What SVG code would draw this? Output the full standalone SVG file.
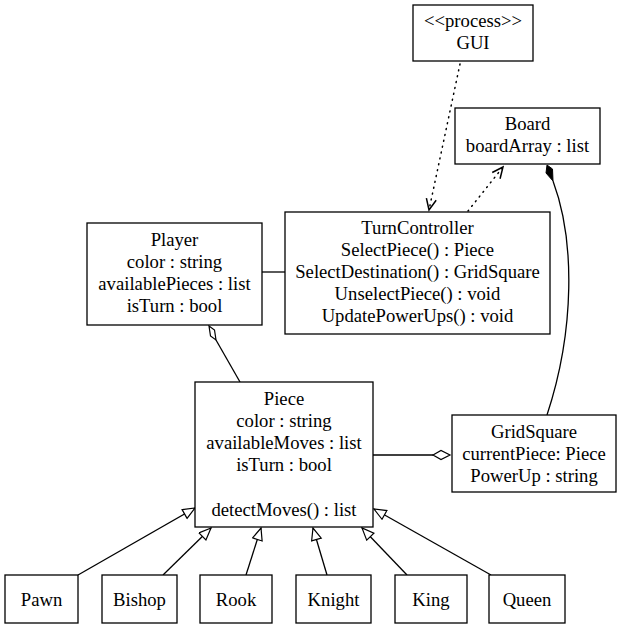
<svg xmlns="http://www.w3.org/2000/svg" width="621" height="628" viewBox="0 0 621 628">
<style>
.box{fill:#fff;stroke:#000;stroke-width:1.3}
.c{fill:none;stroke:#000;stroke-width:1.3}
.dot{fill:none;stroke:#000;stroke-width:1.5;stroke-dasharray:1 5;stroke-linecap:round}
.hd{fill:#fff;stroke:#000;stroke-width:1.2}
text{font-family:"Liberation Serif","Times New Roman",serif;font-size:18.67px;text-anchor:middle;fill:#000}
</style>
<defs>
<marker id="tri" markerUnits="userSpaceOnUse" markerWidth="14" markerHeight="12" refX="13" refY="5.5" orient="auto" viewBox="0 0 14 12">
<path d="M1,0.5 L13,5.5 L1,10.5 z" fill="#fff" stroke="#000" stroke-width="1.2"/>
</marker>
<marker id="open" markerUnits="userSpaceOnUse" markerWidth="14" markerHeight="14" refX="12" refY="6" orient="auto" viewBox="0 0 14 12">
<path d="M1,1 L12,6 L1,11" fill="none" stroke="#000" stroke-width="1.5"/>
</marker>
</defs>
<g id="connectors">
<path class="dot" d="M460,64 L429,210" marker-end="url(#open)"/>
<path class="dot" d="M468,211 L503,167" marker-end="url(#open)"/>
<path class="c" d="M262,272 L285,272"/>
<path class="c" d="M216,340 L240,382"/>
<path class="hd" d="M209,326 L214.5,330 L216,340 L210.5,336 z"/>
<path class="c" d="M373,455 L433,455"/>
<path class="hd" d="M433,455 L441,450.5 L450,455 L441,459.5 z"/>
<path class="c" d="M553,181 C575,240 575,330 547,415"/>
<path d="M547,165 L552.5,169 L553,181 L546,173 z" fill="#000" stroke="#000" stroke-width="1"/>
<path class="c" d="M78,575 L195,508" marker-end="url(#tri)"/>
<path class="c" d="M163,575 L211,528" marker-end="url(#tri)"/>
<path class="c" d="M246,575 L261,528" marker-end="url(#tri)"/>
<path class="c" d="M327,575 L313,528" marker-end="url(#tri)"/>
<path class="c" d="M407,575 L362,528" marker-end="url(#tri)"/>
<path class="c" d="M491,575 L374,509" marker-end="url(#tri)"/>
</g>
<g id="GUI">
<rect class="box" x="413" y="5" width="120" height="56"/>
<text x="473" y="27">&lt;&lt;process&gt;&gt;</text>
<text x="473" y="49">GUI</text>
</g>
<g id="Board">
<rect class="box" x="455" y="108" width="145" height="56"/>
<text x="527.5" y="130">Board</text>
<text x="527.5" y="152">boardArray : list</text>
</g>
<g id="Player">
<rect class="box" x="87" y="223" width="175" height="102"/>
<text x="174.5" y="246">Player</text>
<text x="174.5" y="268">color : string</text>
<text x="174.5" y="290">availablePieces : list</text>
<text x="174.5" y="312">isTurn : bool</text>
</g>
<g id="TurnController">
<rect class="box" x="285" y="212" width="265" height="122"/>
<text x="417.5" y="234">TurnController</text>
<text x="417.5" y="256">SelectPiece() : Piece</text>
<text x="417.5" y="278">SelectDestination() : GridSquare</text>
<text x="417.5" y="300">UnselectPiece() : void</text>
<text x="417.5" y="322">UpdatePowerUps() : void</text>
</g>
<g id="Piece">
<rect class="box" x="195" y="382" width="178" height="145"/>
<text x="284" y="405">Piece</text>
<text x="284" y="427">color : string</text>
<text x="284" y="449">availableMoves : list</text>
<text x="284" y="471">isTurn : bool</text>
<text x="284" y="516">detectMoves() : list</text>
</g>
<g id="GridSquare">
<rect class="box" x="452" y="415" width="164" height="77"/>
<text x="534" y="438">GridSquare</text>
<text x="534" y="460">currentPiece: Piece</text>
<text x="534" y="482">PowerUp : string</text>
</g>
<g id="Pawn"><rect class="box" x="5" y="575" width="73" height="48"/><text x="41.5" y="606">Pawn</text></g>
<g id="Bishop"><rect class="box" x="102" y="575" width="75" height="48"/><text x="139.5" y="606">Bishop</text></g>
<g id="Rook"><rect class="box" x="200" y="575" width="72" height="48"/><text x="236" y="606">Rook</text></g>
<g id="Knight"><rect class="box" x="296" y="575" width="75" height="48"/><text x="333.5" y="606">Knight</text></g>
<g id="King"><rect class="box" x="395" y="575" width="72" height="48"/><text x="431" y="606">King</text></g>
<g id="Queen"><rect class="box" x="489" y="575" width="76" height="48"/><text x="527" y="606">Queen</text></g>
</svg>
